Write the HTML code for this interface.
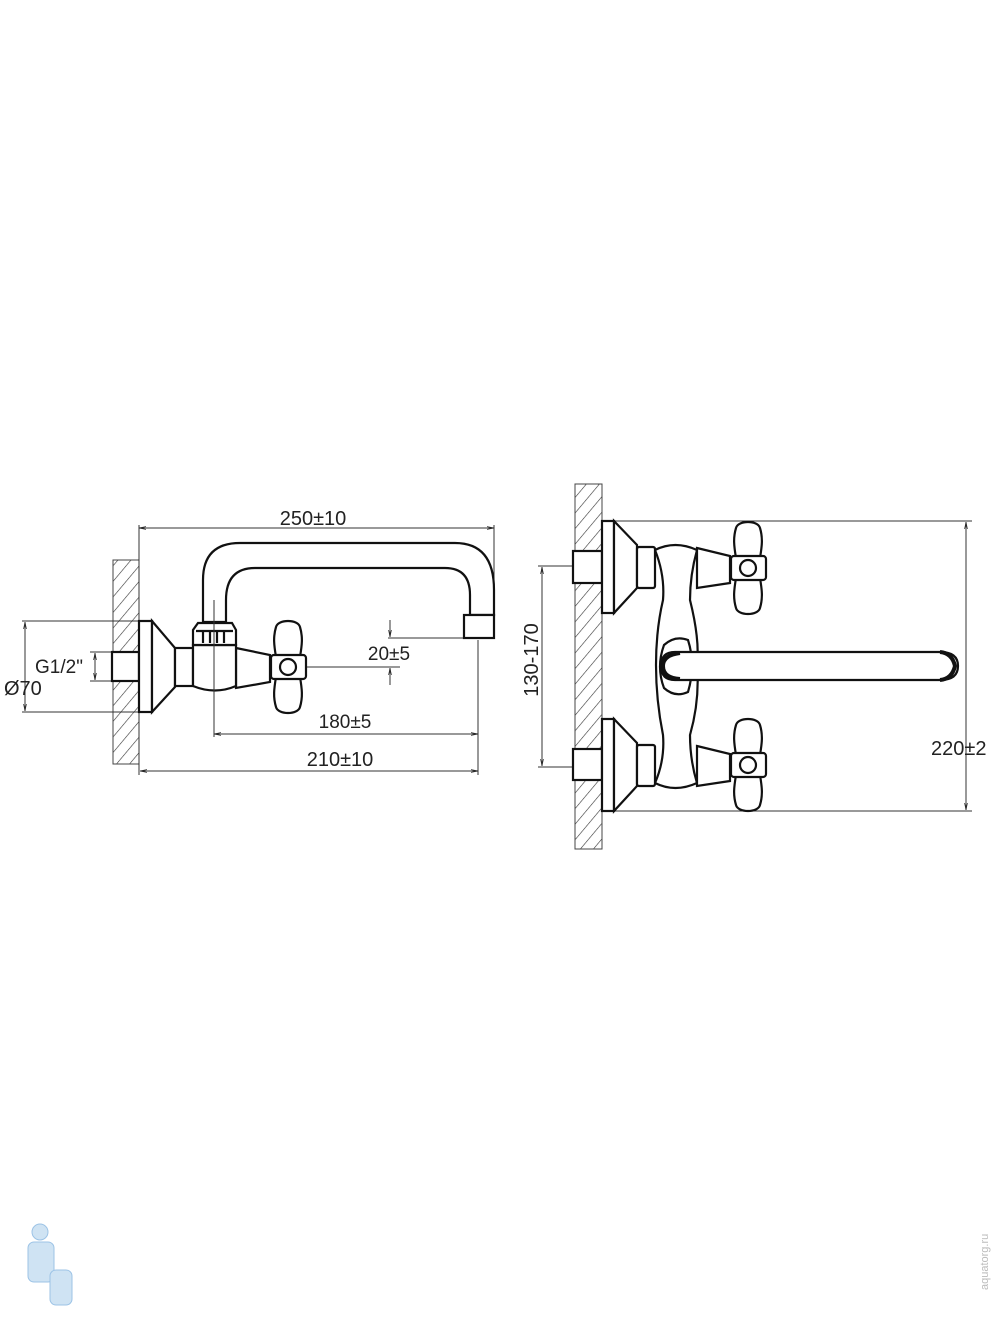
<!DOCTYPE html>
<html><head><meta charset="utf-8"><style>
html,body{margin:0;padding:0;background:#fff;}
svg{display:block;}
text{font-family:"Liberation Sans",sans-serif;fill:#222;}
</style></head><body>
<svg width="1000" height="1333" viewBox="0 0 1000 1333" xmlns="http://www.w3.org/2000/svg">
<defs>
<pattern id="h" width="10" height="10" patternUnits="userSpaceOnUse" patternTransform="rotate(40)">
<line x1="0" y1="0" x2="0" y2="10" stroke="#333" stroke-width="1.2"/>
</pattern>
<marker id="a" viewBox="0 0 10 10" refX="10" refY="5" markerWidth="7" markerHeight="7" orient="auto-start-reverse">
<path d="M0,3 L10,5 L0,7" fill="none" stroke="#222" stroke-width="1"/>
</marker>
<g id="hnd" fill="#fff" stroke="#111" stroke-width="2.2">
<path d="M-12,-10 C-14,-22 -15,-30 -12,-40 C-10,-48 10,-48 12,-40 C15,-30 14,-22 12,-10 Z"/>
<path d="M-12,10 C-14,22 -15,30 -12,40 C-10,48 10,48 12,40 C15,30 14,22 12,10 Z"/>
<rect x="-17" y="-12" width="35" height="24" rx="3"/>
<circle cx="0" cy="0" r="8"/>
</g>
</defs>

<!-- LEFT VIEW -->
<rect x="113" y="560" width="26" height="204" fill="url(#h)" stroke="#444" stroke-width="1"/>
<g stroke="#333" stroke-width="1" fill="none">
<line x1="139" y1="525" x2="139" y2="775"/>
<line x1="494" y1="525" x2="494" y2="615"/>
<line x1="139" y1="528" x2="494" y2="528" marker-start="url(#a)" marker-end="url(#a)"/>
<line x1="22" y1="621" x2="139" y2="621"/>
<line x1="22" y1="712" x2="139" y2="712"/>
<line x1="25" y1="622" x2="25" y2="711" marker-start="url(#a)" marker-end="url(#a)"/>
<line x1="90" y1="652" x2="115" y2="652"/>
<line x1="90" y1="681" x2="115" y2="681"/>
<line x1="95" y1="653" x2="95" y2="680" marker-start="url(#a)" marker-end="url(#a)"/>
<line x1="214" y1="600" x2="214" y2="737"/>
<line x1="478" y1="640" x2="478" y2="775"/>
<line x1="214" y1="734" x2="478" y2="734" marker-start="url(#a)" marker-end="url(#a)"/>
<line x1="140" y1="771" x2="478" y2="771" marker-start="url(#a)" marker-end="url(#a)"/>
<line x1="388" y1="638" x2="464" y2="638"/>
<line x1="290" y1="667" x2="400" y2="667"/>
<line x1="390" y1="620" x2="390" y2="637" marker-end="url(#a)"/>
<line x1="390" y1="685" x2="390" y2="668" marker-end="url(#a)"/>
</g>
<g fill="#fff" stroke="#111" stroke-width="2.2">
<path d="M203,622 L203,580 Q203,543 240,543 L455,543 Q494,543 494,590 L494,615 L470,615 L470,595 Q470,568 445,568 L255,568 Q226,568 226,600 L226,622 Z"/>
<rect x="464" y="615" width="30" height="23"/>
<rect x="112" y="652" width="27" height="29"/>
<rect x="139" y="621" width="13" height="91"/>
<path d="M152,621 L175,648 L175,687 L152,712 Z"/>
<rect x="175" y="648" width="18" height="38"/>
<path d="M236,648 L270,655 L270,682 L236,688 Z"/>
<path d="M193,645 L236,645 L236,686 Q215,695 193,686 Z"/>
<path d="M193,645 L193,630 L198,623 L232,623 L236,630 L236,645 Z"/>
<line x1="196" y1="631" x2="233" y2="631"/>
<line x1="203" y1="631" x2="203" y2="643"/><line x1="210" y1="631" x2="210" y2="643"/><line x1="217" y1="631" x2="217" y2="643"/><line x1="224" y1="631" x2="224" y2="643"/>
</g>
<line x1="214" y1="600" x2="214" y2="737" stroke="#333" stroke-width="1"/>
<use href="#hnd" x="288" y="667"/>
<text x="313" y="525" font-size="20" text-anchor="middle">250±10</text>
<text x="389" y="660" font-size="19" text-anchor="middle">20±5</text>
<text x="345" y="728" font-size="19" text-anchor="middle">180±5</text>
<text x="340" y="766" font-size="20" text-anchor="middle">210±10</text>
<text x="35" y="673" font-size="19">G1/2"</text>
<text x="4" y="695" font-size="20">Ø70</text>

<!-- RIGHT VIEW -->
<rect x="575" y="484" width="27" height="365" fill="url(#h)" stroke="#444" stroke-width="1"/>
<g stroke="#333" stroke-width="1" fill="none">
<line x1="602" y1="521" x2="972" y2="521"/>
<line x1="602" y1="811" x2="972" y2="811"/>
<line x1="966" y1="522" x2="966" y2="810" marker-start="url(#a)" marker-end="url(#a)"/>
<line x1="538" y1="566" x2="600" y2="566"/>
<line x1="538" y1="767" x2="600" y2="767"/>
<line x1="542" y1="567" x2="542" y2="766" marker-start="url(#a)" marker-end="url(#a)"/>
</g>
<g fill="#fff" stroke="#111" stroke-width="2.2">
<path d="M655,550 Q675,540 697,550 Q690,575 690,600 Q700,640 697,665 Q700,700 690,735 Q690,760 697,783 Q675,793 655,783 Q665,760 663,735 Q656,700 656,665 Q656,630 663,600 Q665,575 655,550 Z"/>
<rect x="573" y="551" width="29" height="32"/>
<rect x="602" y="521" width="12" height="92"/>
<path d="M614,521 L637,545 L637,588 L614,613 Z"/>
<rect x="637" y="547" width="18" height="41" rx="2"/>
<path d="M697,548 L730,556 L730,583 L697,588 Z"/>
<rect x="573" y="749" width="29" height="31"/>
<rect x="602" y="719" width="12" height="92"/>
<path d="M614,719 L637,743 L637,786 L614,811 Z"/>
<rect x="637" y="745" width="18" height="41" rx="2"/>
<path d="M697,746 L730,754 L730,781 L697,786 Z"/>
<path d="M664,645 Q675,635 688,640 Q696,665 688,692 Q675,698 664,688 Q656,667 664,645 Z"/>
<path d="M675,652 L940,652 Q958,652 958,666 Q958,680 940,680 L675,680 Q661,680 661,666 Q661,652 675,652 Z"/>
<path d="M940,652 Q952,653 955,666 Q952,679 940,680" fill="none" stroke-width="4"/>
<path d="M680,653 Q663,655 663,666 Q663,678 680,679" fill="none" stroke-width="4"/>
</g>
<use href="#hnd" x="748" y="568"/>
<use href="#hnd" x="748" y="765"/>
<text x="931" y="755" font-size="20">220±2</text>
<text transform="translate(538,660) rotate(-90)" font-size="20" text-anchor="middle">130-170</text>

<text transform="translate(988,1290) rotate(-90)" font-size="11" style="fill:#bbb">aquatorg.ru</text>
<g fill="#cfe3f3" stroke="#9cc3e6" stroke-width="1">
<circle cx="40" cy="1232" r="8"/>
<rect x="28" y="1242" width="26" height="40" rx="6"/>
<rect x="50" y="1270" width="22" height="35" rx="6"/>
</g>
</svg>
</body></html>
